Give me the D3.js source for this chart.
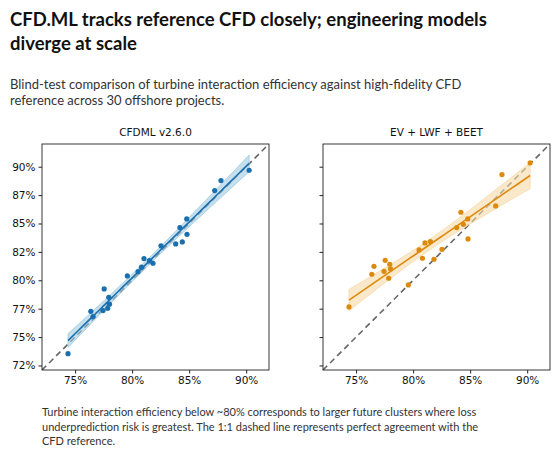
<!DOCTYPE html>
<html><head><meta charset="utf-8">
<script src="https://cdn.jsdelivr.net/npm/d3@7"></script>
<style>body{margin:0;background:#fff}svg{display:block}</style>
</head><body><svg id="c" width="560" height="452"></svg>
<script>
const cfd   = [74.38,76.38,76.57,77.45,77.55,77.86,77.95,78.02,79.58,80.52,80.82,81.04,81.52,81.83,82.53,83.82,84.19,84.40,84.79,84.81,87.24,87.79,90.26];
const cfdml = [73.54,77.27,76.80,77.33,79.24,77.53,78.50,77.90,80.38,80.76,81.15,81.91,81.73,81.50,83.03,83.20,84.64,83.38,85.40,84.05,87.90,88.78,89.69];
const eng   = [77.65,80.53,81.23,80.79,81.76,80.18,81.41,81.00,79.59,82.67,81.94,83.29,83.41,81.85,82.73,84.64,85.99,84.93,85.40,83.64,86.55,89.31,90.34];
const tickVals = [72.5,75,77.5,80,82.5,85,87.5,90];
const yTickLabels = ["72%","75%","77%","80%","82%","85%","87%","90%"];
const xTickVals = [75,80,85,90];
const xTickLabels = ["75%","80%","85%","90%"];
const panels = [
 {title:"CFDML v2.6.0", ys:cfdml, color:"#1a6faf", fill:"#9ecae1", left:42},
 {title:"EV + LWF + BEET", ys:eng, color:"#dd8a0c", fill:"#f6d9a8", left:323}
];
const svg = d3.select("#c");
const F = "Lato, 'Open Sans', sans-serif";
svg.append("text").attr("x",10).attr("y",26).attr("font-family",F).attr("font-weight",700).attr("font-size",18.5).attr("fill","#111").text("CFD.ML tracks reference CFD closely; engineering models");
svg.append("text").attr("x",10).attr("y",50).attr("font-family",F).attr("font-weight",700).attr("font-size",18.5).attr("fill","#111").text("diverge at scale");
svg.append("text").attr("x",10).attr("y",89).attr("font-family",F).attr("font-size",13).attr("fill","#333").text("Blind-test comparison of turbine interaction efficiency against high-fidelity CFD");
svg.append("text").attr("x",10).attr("y",105).attr("font-family",F).attr("font-size",13).attr("fill","#333").text("reference across 30 offshore projects.");
["Turbine interaction efficiency below ~80% corresponds to larger future clusters where loss","underprediction risk is greatest. The 1:1 dashed line represents perfect agreement with the","CFD reference."].forEach((t,i)=>svg.append("text").attr("x",42).attr("y",416+i*14.5).attr("font-family",F).attr("font-size",11).attr("fill","#333").text(t));

const pTop=144,pBottom=370,W=227;
const dom=[72.1,92.0];
const y=d3.scaleLinear().domain(dom).range([pBottom,pTop]);
function fit(xs,ys){
  const n=xs.length,mx=d3.mean(xs),my=d3.mean(ys);
  let sxx=0,sxy=0;xs.forEach((x,i)=>{sxx+=(x-mx)**2;sxy+=(x-mx)*(ys[i]-my);});
  const b=sxy/sxx,a=my-b*mx;
  let sse=0;xs.forEach((x,i)=>{sse+=(ys[i]-a-b*x)**2;});
  const s=Math.sqrt(sse/(n-2)),t=2.08;
  return {a,b,ci:x=>t*s*Math.sqrt(1/n+(x-mx)**2/sxx)};
}
panels.forEach((p,pi)=>{
  const x=d3.scaleLinear().domain(dom).range([p.left,p.left+W]);
  const g=svg.append("g");
  g.append("text").attr("x",p.left+W/2).attr("y",136).attr("text-anchor","middle").attr("font-family","DejaVu Sans").attr("font-size",10.5).attr("fill","#111").text(p.title);
  const clip="clip"+pi;
  svg.append("clipPath").attr("id",clip).append("rect").attr("x",p.left).attr("y",pTop).attr("width",W).attr("height",pBottom-pTop);
  const inner=g.append("g").attr("clip-path",`url(#${clip})`);
  inner.append("line").attr("x1",x(dom[0])).attr("y1",y(dom[0])).attr("x2",x(dom[1])).attr("y2",y(dom[1])).attr("stroke","#666").attr("stroke-width",1.6).attr("stroke-dasharray","6,4");
  const f=fit(cfd,p.ys);
  const xs=d3.range(0,51).map(i=>d3.min(cfd)+(d3.max(cfd)-d3.min(cfd))*i/50);
  inner.append("path").attr("d",d3.area().x(d=>x(d)).y0(d=>y(f.a+f.b*d-f.ci(d))).y1(d=>y(f.a+f.b*d+f.ci(d)))(xs)).attr("fill",p.fill).attr("fill-opacity",0.6).attr("stroke",p.fill).attr("stroke-width",0.8);
  inner.append("path").attr("d",d3.line().x(d=>x(d)).y(d=>y(f.a+f.b*d))(xs)).attr("fill","none").attr("stroke",p.color).attr("stroke-width",1.6);
  inner.selectAll("circle").data(cfd).join("circle").attr("cx",d=>x(d)).attr("cy",(d,i)=>y(p.ys[i])).attr("r",2.6).attr("fill",p.color);
  g.append("rect").attr("x",p.left).attr("y",pTop).attr("width",W).attr("height",pBottom-pTop).attr("fill","none").attr("stroke","#222").attr("stroke-width",0.9);
  const xa=g.append("g").attr("transform",`translate(0,${pBottom})`).call(d3.axisBottom(x).tickValues(xTickVals).tickFormat((d,i)=>xTickLabels[i]).tickSize(3.5));
  const ya=g.append("g").attr("transform",`translate(${p.left},0)`).call(d3.axisLeft(y).tickValues(tickVals).tickFormat((d,i)=>pi==0?yTickLabels[i]:"").tickSize(3.5));
  [xa,ya].forEach(a=>{a.select(".domain").remove();a.selectAll("text").attr("font-family","DejaVu Sans").attr("font-size",10.5).attr("fill","#111");a.selectAll("line").attr("stroke","#222");});
});
</script></body></html>
